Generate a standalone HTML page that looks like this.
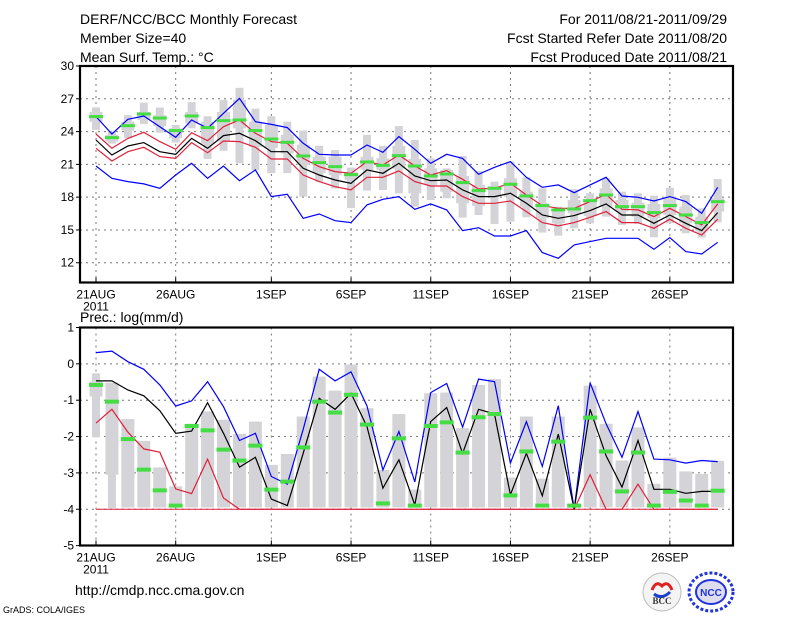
<!DOCTYPE html>
<html><head><meta charset="utf-8"><style>
html,body{margin:0;padding:0;background:#fff;}
svg{display:block;font-family:"Liberation Sans",sans-serif;}
</style></head><body>
<svg id="chart" width="800" height="618" viewBox="0 0 800 618" xmlns="http://www.w3.org/2000/svg">
<rect x="0" y="0" width="800" height="618" fill="#fff"/>
<g font-size="14" fill="#000">
<text x="80" y="24">DERF/NCC/BCC Monthly Forecast</text>
<text x="80" y="43">Member Size=40</text>
<text x="80" y="62">Mean Surf. Temp.: °C</text>
<text x="727" y="24" text-anchor="end">For 2011/08/21-2011/09/29</text>
<text x="727" y="43" text-anchor="end">Fcst Started Refer Date 2011/08/20</text>
<text x="727" y="62" text-anchor="end">Fcst Produced Date 2011/08/21</text>
<text x="80" y="322">Prec.: log(mm/d)</text>
<text x="75" y="595">http://cmdp.ncc.cma.gov.cn</text>
<text x="3" y="613" font-size="9">GrADS: COLA/IGES</text>
</g>
<g>
<circle cx="662" cy="592" r="19" fill="#f4f4f4" stroke="#bbb"/>
<path d="M652 590 q4 -10 10 -4 q6 -6 10 4" fill="none" stroke="#d22" stroke-width="3"/>
<path d="M654 594 q8 6 16 -2" fill="none" stroke="#1a3fd0" stroke-width="3"/>
<text x="662" y="604" font-size="9" font-weight="bold" text-anchor="middle" fill="#333" font-family="Liberation Serif,serif">BCC</text>
</g>
<g>
<ellipse cx="711" cy="592" rx="22" ry="19" fill="none" stroke="#2233dd" stroke-width="3" stroke-dasharray="3 2"/>
<ellipse cx="711" cy="592" rx="15" ry="12" fill="#dde" stroke="#2233dd" stroke-width="2"/>
<text x="711" y="596" font-size="10" font-weight="bold" text-anchor="middle" fill="#2233dd">NCC</text>
</g>
<g id="top"></g>
<g id="bot"></g>
</svg>
<script>
const tBlueHi = [25.37,23.78,25.12,25.43,24.45,23.48,25.06,24.3,25.67,27.04,24.9,24.66,24.36,22.93,21.92,21.86,21.86,22.77,22.1,23.54,22.38,21.1,21.92,21.55,20.09,20.73,21.25,19.82,18.9,19.12,18.41,19.12,19.82,18.11,17.99,17.65,18.05,17.59,16.52,18.9];
const tRedHi = [23.78,22.47,23.38,23.93,23.08,22.38,23.9,23.17,24.45,25.06,23.84,23.08,22.93,21.55,20.79,20.34,20.18,21.25,20.94,21.86,20.85,20.03,20.43,19.63,18.75,18.81,19.27,18.2,17.23,16.98,16.98,17.59,18.26,16.89,16.83,16.22,16.98,16.22,15.46,17.38];
const tMean = [23.23,21.86,22.68,22.99,22.16,21.92,23.38,22.47,23.63,23.84,23.17,22.16,22.16,20.64,20.03,19.57,19.27,20.49,20.18,21.1,19.94,19.51,19.57,18.66,18.05,18.05,18.35,17.44,16.37,16.07,16.31,16.77,17.38,16.37,16.37,15.61,16.37,15.61,14.94,16.59];
const tRedLo = [22.47,21.31,22.16,22.56,21.71,21.55,22.99,22.07,23.14,23.08,22.56,21.49,21.49,20.03,19.42,18.96,18.66,19.82,19.82,20.4,19.42,19.02,19.02,18.05,17.44,17.44,17.65,16.68,15.67,15.37,15.67,16.16,16.68,15.67,15.67,15.15,15.98,15.15,14.54,15.98];
const tBlueLo = [20.85,19.73,19.42,19.21,18.81,20.03,21.1,19.73,20.85,19.51,20.49,18.05,18.26,16.07,16.46,15.85,15.67,17.29,17.8,18.05,16.89,17.38,16.83,14.94,15.21,14.45,14.45,14.94,12.93,12.41,13.63,13.93,14.24,14.24,14.24,13.23,14.3,13.02,12.8,13.87];
const tGreen = [25.37,23.45,24.54,25.61,25.24,24.09,25.43,24.36,25.0,25.06,24.09,23.32,23.02,21.77,21.16,20.79,20.06,21.22,20.91,21.8,20.85,19.94,20.12,19.33,18.6,18.81,19.18,18.11,17.23,16.83,16.92,17.68,18.2,17.13,17.13,16.59,17.23,16.37,15.67,17.59];
const tMax = [26.22,24.0,25.5,26.65,26.2,24.6,26.7,25.4,26.9,28.0,26.1,25.4,24.9,24.1,22.7,22.3,20.7,23.7,22.7,24.5,23.23,21.55,20.64,21.77,20.4,19.42,21.25,19.82,18.81,17.13,18.72,18.35,19.73,18.5,18.35,18.14,18.87,18.2,16.98,19.66];
const tMin = [24.15,22.9,23.4,24.7,23.9,23.0,24.3,21.5,22.25,21.1,20.5,20.2,20.2,18.05,19.4,18.8,17.0,18.6,18.65,18.35,17.13,17.74,17.9,16.13,16.37,15.55,15.76,16.16,14.76,14.48,15.15,15.61,16.22,15.46,15.55,14.33,15.61,14.7,14.3,15.7];
const tQ3 = [25.8,23.7,24.9,25.8,25.5,24.3,25.8,24.9,25.8,26.9,24.9,24.6,23.7,22.8,21.7,21.7,20.3,21.7,21.55,22.7,21.49,20.64,20.49,19.94,19.12,19.02,19.73,18.5,17.44,16.68,17.74,17.74,18.81,17.74,17.5,17.38,18.05,17.13,16.22,17.9];
const tQ1 = [24.9,23.1,24.1,25.05,24.5,23.4,24.75,22.9,23.1,24.3,22.6,22.5,22.0,20.95,20.2,20.0,19.6,20.5,20.5,20.6,18.35,19.12,18.5,17.44,17.2,18.05,18.05,17.13,16.07,15.61,16.52,16.28,17.13,16.68,16.22,16.07,16.37,15.61,14.85,16.68];
const tTicks = [12,15,18,21,24,27,30];

const pBlueHi = [0.31,0.35,0.06,-0.15,-0.58,-1.16,-1.02,-0.49,-1.18,-2.11,-1.91,-3.1,-3.31,-1.8,-0.15,-0.47,-0.22,-1.16,-2.92,-1.86,-3.25,-0.79,-0.54,-1.74,-0.42,-0.49,-2.73,-1.59,-2.82,-1.15,-4.0,-0.52,-1.65,-2.57,-1.31,-2.62,-2.64,-2.73,-2.66,-2.69];
const pMean = [-0.47,-0.47,-0.72,-0.88,-1.29,-1.91,-1.85,-1.07,-1.91,-2.84,-2.57,-3.72,-3.9,-2.46,-0.95,-1.25,-0.81,-1.73,-3.42,-2.64,-3.88,-1.59,-1.2,-2.46,-1.25,-1.38,-3.6,-2.46,-3.63,-1.93,-4.0,-1.25,-2.53,-3.39,-2.11,-3.45,-3.45,-3.56,-3.51,-3.51];
const pRedLo = [-1.63,-1.25,-1.88,-2.34,-2.43,-3.44,-3.57,-2.62,-3.69,-4,-4,-4,-4,-4,-4,-4,-4,-4,-4,-4,-4,-4,-4,-4,-4,-4,-4,-4,-4,-4,-4,-3.05,-4,-4,-3.31,-4,-4,-4,-4,-4];
const pGreen = [-0.58,-1.04,-2.07,-2.91,-3.48,-3.9,-1.71,-1.83,-2.36,-2.66,-2.25,-3.46,-3.24,-2.3,-1.04,-1.34,-0.85,-1.67,-3.84,-2.05,-3.9,-1.71,-1.61,-2.44,-1.47,-1.38,-3.62,-2.41,-3.9,-2.14,-3.9,-1.48,-2.41,-3.51,-2.44,-3.9,-3.52,-3.76,-3.9,-3.49];
const pMax = [-0.26,-0.52,-1.52,-2.12,-2.85,-3.37,-1.65,-1.31,-1.54,-1.93,-1.59,-2.78,-2.48,-1.45,-0.35,-0.74,-0.02,-1.22,-2.92,-1.38,-3.46,-0.81,-0.79,-1.77,-0.58,-0.42,-3.13,-1.45,-3.16,-1.45,-3.95,-0.6,-1.65,-2.66,-1.75,-3.3,-2.58,-2.96,-3.03,-2.67];
const pMin = [-2.02,-3.97,-3.95,-3.95,-3.95,-3.95,-3.95,-3.95,-3.95,-3.95,-3.95,-3.95,-3.95,-3.95,-3.95,-3.95,-3.95,-3.95,-3.95,-3.95,-3.95,-3.95,-3.95,-3.95,-3.95,-3.95,-3.95,-3.95,-3.95,-3.95,-3.95,-3.95,-3.95,-3.95,-3.95,-3.95,-3.95,-3.95,-3.95,-3.95];
const pQ3 = [-0.49,-0.52,-1.52,-2.12,-2.85,-3.37,-1.65,-1.31,-1.54,-1.93,-1.59,-2.78,-2.48,-1.45,-0.35,-0.74,-0.02,-1.22,-2.92,-1.38,-3.46,-0.81,-0.79,-1.77,-0.58,-0.42,-3.13,-1.45,-3.16,-1.45,-3.95,-0.6,-1.65,-2.66,-1.75,-3.3,-2.58,-2.96,-3.03,-2.67];
const pQ1 = [-0.9,-3.05,-3.95,-3.95,-3.95,-3.95,-3.95,-3.95,-3.95,-3.95,-3.95,-3.95,-3.95,-3.95,-3.95,-3.95,-3.95,-3.95,-3.95,-3.95,-3.95,-3.95,-3.95,-3.95,-3.95,-3.95,-3.95,-3.95,-3.95,-3.95,-3.95,-3.95,-3.95,-3.95,-3.95,-3.95,-3.95,-3.95,-3.95,-3.95];
const pTicks = [-5,-4,-3,-2,-1,0,1];
const pFloor = -4;

const xTickDays = [0,5,11,16,21,26,31,36];
const xTickLabels = ["21AUG","26AUG","1SEP","6SEP","11SEP","16SEP","21SEP","26SEP"];

const NS = "http://www.w3.org/2000/svg";
function xScale(d){ return 96 + d*15.94; }
function mk(parent, tag, attrs){
  const e = document.createElementNS(NS, tag);
  for (const k in attrs) e.setAttribute(k, attrs[k]);
  parent.appendChild(e);
  return e;
}

function drawPanel(gid, opt){
  const g = document.getElementById(gid);
  const ys = v => opt.y0 + (opt.v0 - v) * opt.ppu;
  const L = 80, R = 733, T = opt.top, B = opt.bottom;
  opt.ticks.forEach(t => {
    const y = ys(t);
    if (y > T + 1 && y < B - 1) {
      const l = mk(g,'line',{x1:L,x2:R,y1:y,y2:y,stroke:'#777','stroke-width':1,'stroke-dasharray':'2 4'});
      
      
    }
    const tk = mk(g,'line',{x1:L-4,x2:L,y1:y,y2:y,stroke:'#000','stroke-width':1});
    
    
    const tx = mk(g,'text',{x:L-6,y:y+4,'text-anchor':'end','font-size':12});
    tx.textContent = String(t);
    
    
  });
  xTickDays.forEach((d,i) => {
    const x = xScale(d);
    const l = mk(g,'line',{x1:x,x2:x,y1:T,y2:B,stroke:'#777','stroke-width':1,'stroke-dasharray':'2 4'});
    
    
    const tk = mk(g,'line',{x1:x,x2:x,y1:B-5,y2:B,stroke:'#000','stroke-width':1});
    
    
    const tx = mk(g,'text',{x:x,y:B+16,'text-anchor':'middle','font-size':12});
    tx.textContent = xTickLabels[i];
    
    
  });
  const yr = mk(g,'text',{x:96,y:B+28,'text-anchor':'middle','font-size':12});
  yr.textContent = "2011";
  
  
  for (let i = 0; i < opt.max.length; i++) {
    const x = xScale(i);
    const r1 = mk(g,'rect',{x:x-4,y:ys(opt.max[i]),width:8,height:Math.max(0,ys(opt.min[i])-ys(opt.max[i])),fill:'#d4d4d8'});
    
    
    const r2 = mk(g,'rect',{x:x-6.5,y:ys(opt.q3[i]),width:13,height:Math.max(0,ys(opt.q1[i])-ys(opt.q3[i])),fill:'#d4d4d8'});
    
    
  }
  if (opt.floor !== undefined) {
    const fl = mk(g,'line',{x1:xScale(0),x2:xScale(39),y1:ys(opt.floor),y2:ys(opt.floor),stroke:'#e0203a','stroke-width':1});
    
    
  }
  opt.lines.forEach(s => {
    const pts = s.data.map((v,i) => xScale(i).toFixed(1) + ',' + ys(v).toFixed(1)).join(' ');
    const pl = mk(g,'polyline',{points:pts,fill:'none',stroke:s.color,'stroke-width':1.2});
    
    
  });
  opt.green.forEach((v,i) => {
    const x = xScale(i);
    const r = mk(g,'rect',{x:x-7,y:ys(v)-opt.gh/2,width:14,height:opt.gh,fill:'#44dd44'});
    
    
  });
  const fr = mk(g,'rect',{x:L,y:T,width:R-L,height:B-T,fill:'none',stroke:'#000','stroke-width':2.2});
  
  
}

drawPanel('top', {name:'temp', top:66, bottom:282.5, y0:66, v0:30, ppu:10.93, ticks:tTicks,
  max:tMax, min:tMin, q3:tQ3, q1:tQ1, green:tGreen, gh:3,
  lines:[{data:tBlueHi,color:'#0000ff',name:'temp-upper-blue-line'},{data:tBlueLo,color:'#0000ff',name:'temp-lower-blue-line'},
         {data:tRedHi,color:'#e0203a',name:'temp-upper-red-line'},{data:tRedLo,color:'#e0203a',name:'temp-lower-red-line'},
         {data:tMean,color:'#000000',name:'temp-mean-line'}]});
drawPanel('bot', {name:'prec', top:327.5, bottom:545.5, y0:327.5, v0:1, ppu:36.35, ticks:pTicks, floor:pFloor,
  max:pMax, min:pMin, q3:pQ3, q1:pQ1, green:pGreen, gh:4,
  lines:[{data:pRedLo,color:'#e0203a',name:'prec-lower-red-line'},{data:pBlueHi,color:'#0000ff',name:'prec-upper-blue-line'},
         {data:pMean,color:'#000000',name:'prec-mean-line'}]});
</script>
</body></html>
